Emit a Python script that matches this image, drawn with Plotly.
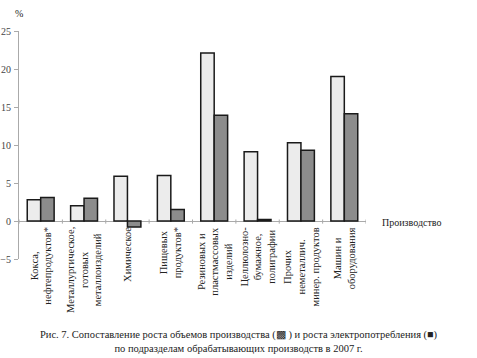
import plotly.graph_objects as go

categories = [
    "Кокса,<br>нефтепродуктов*",
    "Металлургическое,<br>готовых<br>металлоизделий",
    "Химическое",
    "Пищевых<br>продуктов*",
    "Резиновых и<br>пластмассовых<br>изделий",
    "Целлюлозно-<br>бумажное,<br>полиграфии",
    "Прочих<br>неметаллич.<br>минер. продуктов",
    "Машин и<br>оборудования",
]
production_growth = [2.8, 2.0, 5.9, 6.0, 22.1, 9.1, 10.3, 19.0]
power_growth = [3.1, 3.0, -0.8, 1.5, 13.9, 0.2, 9.3, 14.1]
y_ticks = [-5, 0, 5, 10, 15, 20, 25]

FONT = "Liberation Serif"
xs = list(range(len(categories)))

fig = go.Figure()
fig.add_bar(x=xs, y=production_growth, name="Производство",
            marker=dict(color="#ececec", line=dict(color="#1a1a1a", width=1.5)))
fig.add_bar(x=xs, y=power_growth, name="Электропотребление",
            marker=dict(color="#8c8c8c", line=dict(color="#1a1a1a", width=1.5)))

for i, c in enumerate(categories):
    fig.add_annotation(x=i, y=0, xref="x", yref="y", text=c, textangle=-90,
                       showarrow=False, xanchor="center", yanchor="top", yshift=-4,
                       align="center", font=dict(family=FONT, size=10.5, color="#222"))

fig.add_annotation(x=0, y=1, xref="paper", yref="paper", text="%", showarrow=False,
                   xanchor="center", yanchor="bottom", yshift=10,
                   font=dict(family=FONT, size=10, color="#222"))
fig.add_annotation(x=1, y=0, xref="paper", yref="y", text="Производство", showarrow=False,
                   xanchor="left", yanchor="middle", xshift=14, yshift=-1,
                   font=dict(family=FONT, size=10, color="#222"))
fig.add_annotation(x=(238 - 19) / 347, y=0, xref="paper", yref="paper",
                   text="Рис. 7. Сопоставление роста объемов производства (▩ ) и роста электропотребления (■)<br>по подразделам обрабатывающих производств в 2007 г.",
                   showarrow=False, xanchor="center", yanchor="top", yshift=-68,
                   align="center",
                   font=dict(family=FONT, size=10.5, color="#222"))

fig.update_layout(
    width=477, height=358,
    font=dict(family=FONT),
    margin=dict(l=19, r=111, t=31, b=99, autoexpand=False),
    paper_bgcolor="white", plot_bgcolor="white",
    showlegend=False, barmode="group", bargap=0.38, bargroupgap=0.0,
    xaxis=dict(range=[-0.5, len(categories) - 0.5], showticklabels=False,
               showgrid=False, zeroline=False, showline=False, automargin=False,
               ticks=""),
    yaxis=dict(range=[-5, 25], tickvals=y_ticks, showgrid=False, automargin=False,
               zeroline=True, zerolinecolor="#aaaaaa", zerolinewidth=1,
               showline=True, linecolor="#aaaaaa", linewidth=1,
               ticks="outside", ticklen=4, tickcolor="#aaaaaa",
               tickfont=dict(family=FONT, size=10, color="#444"), ticklabelstandoff=1),
)

for i in range(len(categories) + 1):
    fig.add_shape(type="line", xref="x", yref="y", x0=i - 0.5, x1=i - 0.5, y0=-0.35, y1=0.2,
                  line=dict(color="#aaaaaa", width=1))

fig.write_html("out.html", config={"displayModeBar": False},
               post_script="document.body.style.margin='0';document.body.style.overflow='hidden';")
